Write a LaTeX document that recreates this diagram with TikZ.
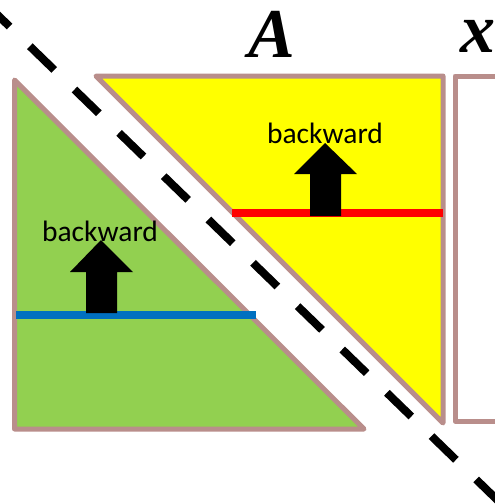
\documentclass[tikz,border=0pt]{standalone}
\usepackage{fontspec}
\setmainfont{Liberation Serif}
\newfontfamily\calib{Carlito}
\definecolor{edgebrown}{RGB}{185,142,139}
\definecolor{leafgreen}{RGB}{146,208,80}
\definecolor{sunyellow}{RGB}{255,255,0}
\definecolor{bluebar}{RGB}{0,112,192}
\definecolor{redbar}{RGB}{255,0,0}
\tikzset{
  region/.style={draw=edgebrown, line width=5pt, line join=round},
  bar/.style={line width=8pt},
  uparrow/.style={fill=black},
  lbl/.style={font=\calib\fontsize{29.5}{31}\selectfont, anchor=base, inner sep=0pt},
  sym/.style={font=\fontsize{70}{72}\selectfont\bfseries\itshape, anchor=base, inner sep=0pt}
}
\begin{document}
\begin{tikzpicture}[x=1pt,y=-1pt]
\useasboundingbox (0,0) rectangle (495,504);
\clip (0,0) rectangle (495,504);
% regions
\draw[region, fill=sunyellow] (96,76) -- (443,76) -- (443,423) -- cycle;
\draw[region, fill=leafgreen] (14.5,80) -- (14.5,429) -- (364,429) -- cycle;
\draw[region, fill=white] (520,76) -- (455,76) -- (455,421) -- (520,421);
% bars
\draw[bar, redbar] (232,213) -- (443,213);
\draw[bar, bluebar] (16,315) -- (256,315);
% arrows
\fill[uparrow] (325,143) -- (357,174) -- (341,174) -- (341,216) -- (310,216) -- (310,174) -- (294,174) -- cycle;
\fill[uparrow] (101,240) -- (133,272) -- (117,272) -- (117,313) -- (86,313) -- (86,272) -- (70,272) -- cycle;
% labels
\node[lbl] (bwy) at (325,143) {backward};
\node[lbl] (bwg) at (100,241) {backward};
\node[sym] (A) at (272,57) {A};
\node[sym, anchor=base west] (X) at (460,52) {x};
% dashed diagonal
\coordinate (d0) at (-14.8,2.9);
\coordinate (d1) at (520,522);
\draw[line width=8pt, dash pattern=on 34pt off 28.2pt] (d0) -- (d1);
\end{tikzpicture}
\end{document}
